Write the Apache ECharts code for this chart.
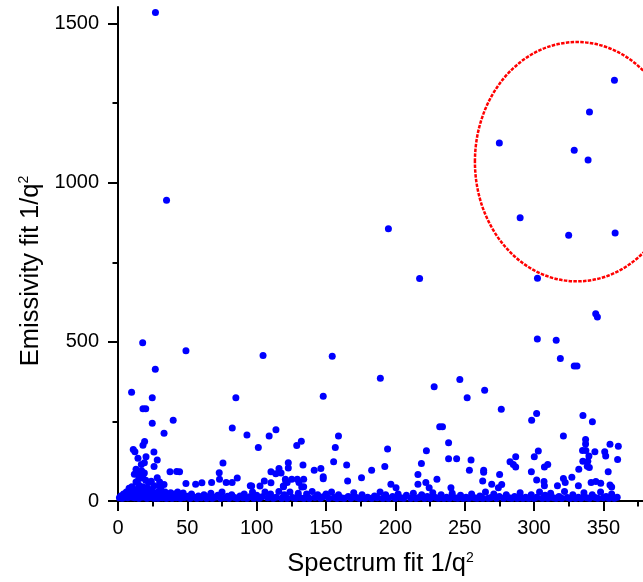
<!DOCTYPE html>
<html>
<head>
<meta charset="utf-8">
<script src="https://cdn.jsdelivr.net/npm/echarts@6/dist/echarts.min.js"></script>
<style>
  html, body { margin: 0; padding: 0; background: #ffffff; }
  #chart { width: 643px; height: 582px; }
</style>
</head>
<body>
<div id="chart"></div>
<script>
// Tick positions and labels
const xMajorTicks = [0, 50, 100, 150, 200, 250, 300, 350];
const xMinorTicks = [25, 75, 125, 175, 225, 275, 325, 375];
const yMajorTicks = [0, 500, 1000, 1500];
const yMinorTicks = [250, 750, 1250];

// Highest values, including the group inside the marked region
const highPoints = [
  [27, 1535], [35, 945], [195, 855], [217.5, 699], [275, 1125], [358, 1322],
  [340, 1222], [329, 1102], [339, 1071], [290, 890], [325, 835], [358.5, 842],
  [302.5, 700], [344.5, 588], [345.7, 578], [302.4, 509], [316, 505],
  [319, 448], [329, 424], [331, 424]
];

// Values between roughly 150 and 500
const midPoints = [
  [17.8, 497], [26.9, 414], [49, 472], [9.8, 342], [24.7, 324], [104.6, 457],
  [85, 324], [154.5, 455], [148, 329], [189.2, 386], [228, 359], [246.5, 382],
  [251.8, 324], [264.4, 348], [276.4, 288], [18, 290], [20, 290], [24.7, 244],
  [39.8, 254], [33.2, 213], [82.4, 229], [93, 207], [11, 162], [12.2, 155],
  [19.2, 187], [18, 175], [25.9, 154], [109, 204], [113.9, 224], [101.2, 168],
  [128.9, 174], [132.2, 188], [159, 204], [156.7, 168], [232, 233], [234, 233],
  [194.4, 163], [222.4, 158], [238.4, 183], [301.9, 275], [298.3, 254],
  [335.3, 269], [342.1, 249], [321.2, 204], [337.2, 193], [337.2, 179],
  [354.8, 178], [360.8, 172], [335, 159], [337.4, 159], [343.9, 155],
  [351, 155], [303.1, 157]
];

// Values between roughly 40 and 150
const lowPoints = [
  [14.4, 134], [20.2, 139], [28.3, 129], [16.8, 115], [19, 120], [26, 108],
  [75.7, 119], [37.5, 92], [42.3, 93], [44.4, 92], [73, 89], [73.2, 68],
  [28.3, 73], [11.8, 84], [18, 72], [86, 72], [49, 55], [56, 53], [60.5, 57],
  [67.5, 58], [78, 58], [82.3, 58], [33.2, 52], [30.3, 47], [95.4, 48],
  [155.5, 123], [164.9, 113], [182.9, 97], [122.8, 120], [122.8, 104],
  [133.4, 113], [141.5, 97], [146.3, 102], [110.3, 92], [116.1, 102],
  [113.8, 86], [117.6, 88], [148, 76], [148, 70], [133.9, 68], [125.3, 68],
  [121, 63], [105.5, 63], [96.4, 47], [102.4, 47], [110.3, 57], [119.4, 45],
  [133.9, 45], [165.6, 63], [175.6, 73], [218.8, 118], [192.4, 108],
  [238.4, 133], [244.2, 133], [254.6, 129], [253.4, 97], [263.7, 97],
  [263.7, 90], [216.3, 83], [230, 68], [275.2, 83], [282.7, 123], [196.8, 53],
  [216.3, 53], [222, 58], [224.4, 42], [200.5, 42], [240.1, 42], [263, 63],
  [269.5, 53], [274.3, 42], [276.7, 52], [351.7, 141], [339.6, 141],
  [300.2, 139], [286.8, 139], [285.1, 115], [286.8, 107], [309.9, 115],
  [307.5, 107], [335.2, 125], [338.8, 125], [338.4, 109], [339.9, 105],
  [360.3, 130], [332.3, 100], [298.1, 92], [353.5, 92], [301.9, 66],
  [307.2, 61], [307.5, 48], [316.9, 48], [321.2, 71], [322.5, 58], [327.3, 75],
  [332, 48], [341.2, 58], [344.6, 61], [348.1, 56], [354.8, 50], [356, 44],
  [120.7, 68], [122, 58], [119.2, 47], [129.3, 68], [130.5, 58], [132.5, 44],
  [13, 100], [14, 92], [13, 60], [15, 70], [16, 80], [17, 95], [19, 88],
  [20, 65], [22, 58], [24, 62], [15, 50], [18, 45], [21, 42], [26, 48],
  [30, 60], [8, 40], [10, 45]
];

// Values close to zero along the whole range
const floorPoints = [
  [1, 10], [2, 16], [3, 9], [4, 22], [5, 12], [6, 28], [7, 10], [8, 18],
  [9, 32], [10, 12], [11, 24], [12, 36], [12, 10], [13, 30], [14, 14],
  [15, 25], [15, 9], [16, 38], [16, 18], [17, 28], [18, 12], [18, 22],
  [19, 34], [20, 14], [20, 26], [21, 9], [22, 18], [22, 32], [23, 11],
  [23, 24], [24, 36], [25, 15], [25, 28], [26, 9], [27, 22], [28, 12],
  [29, 30], [29, 9], [30, 18], [31, 36], [32, 10], [32, 25], [33, 14],
  [34, 28], [35, 9], [36, 20], [37, 12], [38, 26], [39, 9], [40, 15],
  [41, 22], [42, 10], [43, 28], [44, 13], [45, 9], [46, 18], [47, 25],
  [48, 11], [50, 15], [52, 9], [53, 22], [55, 12], [57, 9], [58, 16],
  [60, 10], [62, 20], [64, 9], [65, 13], [67, 24], [68, 9], [70, 12],
  [72, 18], [74, 9], [75, 28], [77, 10], [79, 15], [80, 9], [82, 20],
  [84, 11], [86, 9], [88, 16], [90, 10], [91, 22], [93, 9], [95, 13],
  [97, 28], [98, 9], [100, 18], [102, 9], [104, 13], [106, 28], [108, 10],
  [110, 22], [112, 9], [114, 12], [116, 30], [118, 9], [120, 20], [122, 9],
  [124, 28], [126, 11], [128, 9], [130, 24], [131, 11], [134, 9], [136, 22],
  [138, 9], [140, 30], [142, 11], [144, 20], [146, 9], [148, 13], [150, 22],
  [152, 9], [154, 28], [156, 11], [158, 9], [159, 20], [161, 10], [163, 9],
  [166, 14], [168, 9], [170, 26], [172, 11], [174, 9], [176, 20], [178, 9],
  [180, 12], [183, 9], [185, 16], [187, 10], [189, 28], [191, 9], [193, 20],
  [195, 9], [198, 14], [200, 9], [202, 22], [204, 10], [206, 9], [208, 18],
  [211, 9], [213, 24], [215, 9], [217, 11], [219, 20], [221, 9], [223, 14],
  [225, 9], [227, 26], [229, 11], [231, 9], [233, 20], [235, 9], [237, 12],
  [239, 9], [241, 24], [243, 10], [245, 9], [247, 18], [249, 9], [251, 12],
  [253, 9], [255, 22], [257, 10], [259, 9], [261, 16], [263, 9], [265, 28],
  [267, 9], [269, 11], [271, 22], [273, 9], [275, 14], [278, 9], [280, 20],
  [282, 10], [284, 9], [286, 14], [288, 9], [290, 26], [292, 9], [294, 12],
  [296, 9], [298, 20], [300, 9], [302, 12], [304, 28], [306, 9], [308, 18],
  [310, 9], [312, 24], [314, 10], [316, 9], [318, 14], [320, 9], [322, 30],
  [324, 11], [326, 9], [328, 20], [330, 9], [332, 12], [334, 9], [336, 26],
  [338, 10], [340, 9], [342, 20], [344, 11], [346, 9], [348, 28], [350, 10],
  [352, 14], [354, 9], [356, 22], [358, 9], [360, 12]
];

// Marked region, in data units: centre and half-widths
const regionCentre = [331, 1066];
const regionRadius = [73.6, 376];

const allPoints = highPoints.concat(midPoints, lowPoints, floorPoints);

const FONT = 'Liberation Sans, Arial, sans-serif';
const black = '#000000';
const plainNumber = (v) => String(v);

const chart = echarts.init(document.getElementById('chart'), null, { renderer: 'canvas' });

const option = {
  animation: false,
  backgroundColor: '#ffffff',
  grid: { left: 118, right: 0, top: 7, bottom: 80.3, containLabel: false },
  xAxis: [
    {
      type: 'value', position: 'bottom', min: 0, max: 378.6,
      name: 'Spectrum fit 1/q{s|2}',
      nameLocation: 'middle', nameGap: 50,
      nameTextStyle: {
        fontFamily: FONT, fontSize: 25.5, color: black,
        rich: { s: { fontFamily: FONT, fontSize: 14, color: black, verticalAlign: 'top' } }
      },
      axisLine: { show: true, onZero: false, lineStyle: { color: black, width: 2 } },
      axisTick: { show: true, inside: false, length: 10, customValues: xMajorTicks, lineStyle: { color: black, width: 2 } },
      axisLabel: { show: true, customValues: xMajorTicks, formatter: plainNumber, margin: 17, fontFamily: FONT, fontSize: 20, color: black },
      splitLine: { show: false }
    },
    {
      type: 'value', position: 'bottom', min: 0, max: 378.6,
      axisLine: { show: false, onZero: false },
      axisTick: { show: true, inside: false, length: 5.5, customValues: xMinorTicks, lineStyle: { color: black, width: 2 } },
      axisLabel: { show: false },
      splitLine: { show: false }
    }
  ],
  yAxis: [
    {
      type: 'value', position: 'left', min: 0, max: 1552,
      name: 'Emissivity fit 1/q{s|2}',
      nameLocation: 'middle', nameGap: 73, nameRotate: 90,
      nameTextStyle: {
        fontFamily: FONT, fontSize: 25.5, color: black,
        padding: [0, 34, 0, 0],
        rich: { s: { fontFamily: FONT, fontSize: 14, color: black, verticalAlign: 'top' } }
      },
      axisLine: { show: true, onZero: false, lineStyle: { color: black, width: 2 } },
      axisTick: { show: true, inside: false, length: 10, customValues: yMajorTicks, lineStyle: { color: black, width: 2 } },
      axisLabel: { show: true, customValues: yMajorTicks, formatter: plainNumber, margin: 19, fontFamily: FONT, fontSize: 20, color: black },
      splitLine: { show: false }
    },
    {
      type: 'value', position: 'left', min: 0, max: 1552,
      axisLine: { show: false, onZero: false },
      axisTick: { show: true, inside: false, length: 5.5, customValues: yMinorTicks, lineStyle: { color: black, width: 2 } },
      axisLabel: { show: false },
      splitLine: { show: false }
    }
  ],
  series: [
    {
      type: 'scatter',
      xAxisIndex: 0, yAxisIndex: 0,
      data: allPoints,
      symbol: 'circle',
      symbolSize: 7,
      itemStyle: { color: '#0000ff', opacity: 1 },
      silent: true
    }
  ]
};

chart.setOption(option);

// Dashed ellipse around the high group, placed through the axes
const c = chart.convertToPixel({ gridIndex: 0 }, regionCentre);
const edge = chart.convertToPixel({ gridIndex: 0 }, [regionCentre[0] + regionRadius[0], regionCentre[1] + regionRadius[1]]);
chart.setOption({
  graphic: [{
    type: 'ellipse',
    silent: true,
    z: 10,
    shape: { cx: c[0], cy: c[1], rx: Math.abs(edge[0] - c[0]), ry: Math.abs(c[1] - edge[1]) },
    style: { fill: null, stroke: '#ff0000', lineWidth: 2.5, lineDash: [3.5, 1.3] }
  }]
});
</script>
</body>
</html>
